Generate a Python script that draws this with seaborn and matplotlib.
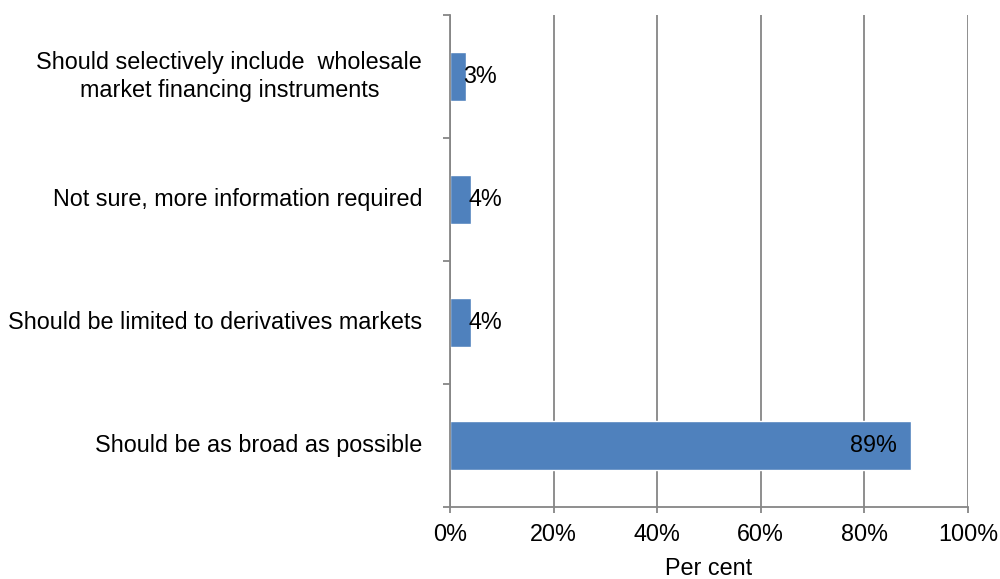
import matplotlib
matplotlib.use("Agg")
import matplotlib.pyplot as plt
import seaborn as sns
import pandas as pd
from matplotlib.ticker import FixedLocator, PercentFormatter

# survey answers, top to bottom as shown
categories = [
    "Should selectively include  wholesale\nmarket financing instruments",
    "Not sure, more information required",
    "Should be limited to derivatives markets",
    "Should be as broad as possible",
]
shares = [3, 4, 4, 89]
xticks = [0, 20, 40, 60, 80, 100]

df = pd.DataFrame({"answer": categories, "pct": shares})

sns.set_style("white")
plt.rcParams["font.family"] = ["Liberation Sans", "DejaVu Sans"]
plt.rcParams["text.color"] = "black"
plt.rcParams["xtick.labelcolor"] = "black"
plt.rcParams["ytick.labelcolor"] = "black"
plt.rcParams["axes.labelcolor"] = "black"

FS = 16.8

fig = plt.figure(figsize=(10, 5.79), dpi=100)
ax = fig.add_axes([0.45, 0.1244, 0.518, 0.8497])

sns.barplot(data=df, x="pct", y="answer", orient="h", color="#4F81BD",
            saturation=1, width=0.4, ax=ax)

ax.set_xlim(0, 100)
ax.set_ylim(len(categories) - 0.5, -0.5)
ax.set_xticks(xticks)
ax.xaxis.set_major_formatter(PercentFormatter(decimals=0))
ax.grid(axis="x", color="#868686", linewidth=1.3)
ax.set_axisbelow(True)

# boundaries between categories get the little tick marks
ax.yaxis.set_minor_locator(FixedLocator([i - 0.5 for i in range(len(categories) + 1)]))
ax.tick_params(axis="y", which="major", length=0, pad=20, labelsize=FS)
ax.tick_params(axis="y", which="minor", left=True, length=5, width=1.3, color="#868686")
ax.tick_params(axis="x", which="major", bottom=True, length=4.3, width=1.3,
               color="#868686", labelsize=FS, pad=7)
for lbl in ax.get_yticklabels():
    lbl.set_multialignment("center")
    lbl.set_linespacing(1.3)
    lbl.set_verticalalignment("center")

for s in ["top", "right"]:
    ax.spines[s].set_visible(False)
for s in ["left", "bottom"]:
    ax.spines[s].set_color("#868686")
    ax.spines[s].set_linewidth(1.3)

ax.set_ylabel("")
ax.set_xlabel("Per cent", fontsize=FS, labelpad=8)

for i, v in enumerate(shares):
    if v > 20:
        ax.text(v - 2.7, i, f"{v}%", ha="right", va="center", fontsize=FS)
    else:
        ax.text(v - 0.5, i, f"{v}%", ha="left", va="center", fontsize=FS)

fig.savefig("out.png", dpi=100)
